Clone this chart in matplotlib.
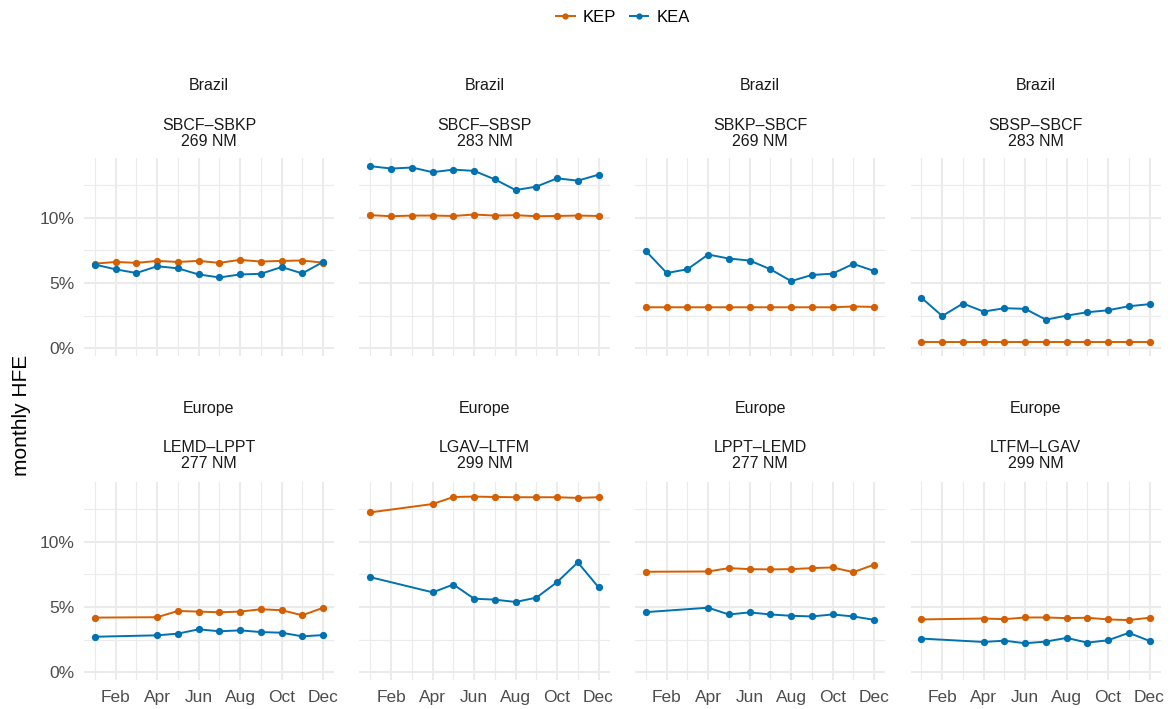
import matplotlib.pyplot as plt
from matplotlib.lines import Line2D

plt.rcParams['font.family'] = ['Liberation Sans', 'DejaVu Sans']

KEP_COL = '#D55E00'
KEA_COL = '#0072B2'

month_labels = ['Feb', 'Apr', 'Jun', 'Aug', 'Oct', 'Dec']

# Brazil: all 12 months
months_br = [1, 2, 3, 4, 5, 6, 7, 8, 9, 10, 11, 12]
# Europe: Feb and Mar missing
months_eu = [1, 4, 5, 6, 7, 8, 9, 10, 11, 12]

regions = ['Brazil', 'Brazil', 'Brazil', 'Brazil', 'Europe', 'Europe', 'Europe', 'Europe']
pairs = ['SBCF–SBKP', 'SBCF–SBSP', 'SBKP–SBCF', 'SBSP–SBCF',
         'LEMD–LPPT', 'LGAV–LTFM', 'LPPT–LEMD', 'LTFM–LGAV']
dist_nm = [269, 283, 269, 283, 277, 299, 277, 299]

kep = [
    [6.49, 6.62, 6.55, 6.70, 6.62, 6.70, 6.55, 6.78, 6.65, 6.70, 6.73, 6.57],
    [10.21, 10.13, 10.18, 10.18, 10.15, 10.26, 10.18, 10.21, 10.13, 10.15, 10.18, 10.15],
    [3.14, 3.14, 3.14, 3.14, 3.14, 3.14, 3.14, 3.14, 3.14, 3.14, 3.20, 3.17],
    [0.49, 0.49, 0.49, 0.49, 0.49, 0.49, 0.49, 0.49, 0.49, 0.49, 0.49, 0.49],
    [4.19, 4.22, 4.70, 4.65, 4.60, 4.65, 4.83, 4.76, 4.37, 4.94],
    [12.27, 12.91, 13.45, 13.48, 13.45, 13.43, 13.43, 13.43, 13.38, 13.43],
    [7.71, 7.73, 7.99, 7.91, 7.89, 7.91, 7.99, 8.04, 7.68, 8.25],
    [4.05, 4.12, 4.07, 4.20, 4.20, 4.15, 4.18, 4.05, 4.00, 4.18],
]
kea = [
    [6.42, 6.05, 5.77, 6.29, 6.13, 5.66, 5.43, 5.66, 5.71, 6.23, 5.74, 6.62],
    [13.97, 13.79, 13.87, 13.51, 13.71, 13.61, 12.96, 12.14, 12.40, 13.04, 12.86, 13.32],
    [7.45, 5.77, 6.06, 7.19, 6.88, 6.73, 6.06, 5.15, 5.62, 5.72, 6.47, 5.93],
    [3.87, 2.47, 3.43, 2.81, 3.07, 3.02, 2.19, 2.50, 2.76, 2.91, 3.22, 3.38],
    [2.72, 2.83, 2.96, 3.29, 3.14, 3.21, 3.08, 3.03, 2.75, 2.85],
    [7.29, 6.13, 6.73, 5.64, 5.57, 5.39, 5.72, 6.91, 8.43, 6.52],
    [4.61, 4.95, 4.43, 4.59, 4.43, 4.33, 4.28, 4.43, 4.28, 4.02],
    [2.58, 2.32, 2.42, 2.22, 2.35, 2.63, 2.27, 2.45, 3.02, 2.40],
]

W, H = 1175, 709
fig = plt.figure(figsize=(W / 100, H / 100), dpi=100)

lefts = [84, 359.5, 635, 910.5]
tops = [158, 482]
pw, ph = 250, 198

for i in range(8):
    row, col = divmod(i, 4)
    left, top = lefts[col], tops[row]
    ax = fig.add_axes([left / W, (H - top - ph) / H, pw / W, ph / H])
    x = months_br if row == 0 else months_eu

    ax.set_xlim(0.47, 12.53)
    ax.set_ylim(-0.6, 14.6)
    ax.set_xticks([2, 4, 6, 8, 10, 12])
    ax.set_xticks([1, 3, 5, 7, 9, 11], minor=True)
    ax.set_yticks([0, 5, 10])
    ax.set_yticks([2.5, 7.5, 12.5], minor=True)
    ax.grid(which='major', color='#EBEBEB', lw=1.5)
    ax.grid(which='minor', color='#EBEBEB', lw=0.8)
    ax.set_axisbelow(True)
    for s in ax.spines.values():
        s.set_visible(False)
    ax.tick_params(which='both', length=0, labelsize=12.5, colors='#4D4D4D', pad=7)

    if col == 0:
        ax.set_yticklabels(['0%', '5%', '10%'])
    else:
        ax.set_yticklabels([])
    if row == 1:
        ax.set_xticklabels(month_labels)
    else:
        ax.set_xticklabels([])

    ax.plot(x, kep[i], color=KEP_COL, lw=1.4, marker='o', ms=4.2)
    ax.plot(x, kea[i], color=KEA_COL, lw=1.4, marker='o', ms=4.2)

    cx = (left + pw / 2) / W
    base = 85 if row == 0 else 408
    fig.text(cx, 1 - base / H, regions[i], ha='center', va='center',
             fontsize=11.5, color='#1A1A1A')
    fig.text(cx, 1 - (base + 40) / H, pairs[i], ha='center', va='center',
             fontsize=11.5, color='#1A1A1A')
    fig.text(cx, 1 - (base + 56) / H, f'{dist_nm[i]} NM', ha='center', va='center',
             fontsize=11.5, color='#1A1A1A')

fig.text(22 / W, 1 - 415 / H, 'monthly HFE', rotation=90, ha='center', va='center',
         fontsize=15)

handles = [Line2D([], [], color=KEP_COL, lw=1.4, marker='o', ms=3.5),
           Line2D([], [], color=KEA_COL, lw=1.4, marker='o', ms=3.5)]
fig.legend(handles, ['KEP', 'KEA'], loc='center', bbox_to_anchor=(623 / W, 1 - 17 / H),
           ncol=2, frameon=False, fontsize=12, handlelength=1.1,
           handletextpad=0.5, columnspacing=0.8)

fig.savefig('out.png', dpi=100)
